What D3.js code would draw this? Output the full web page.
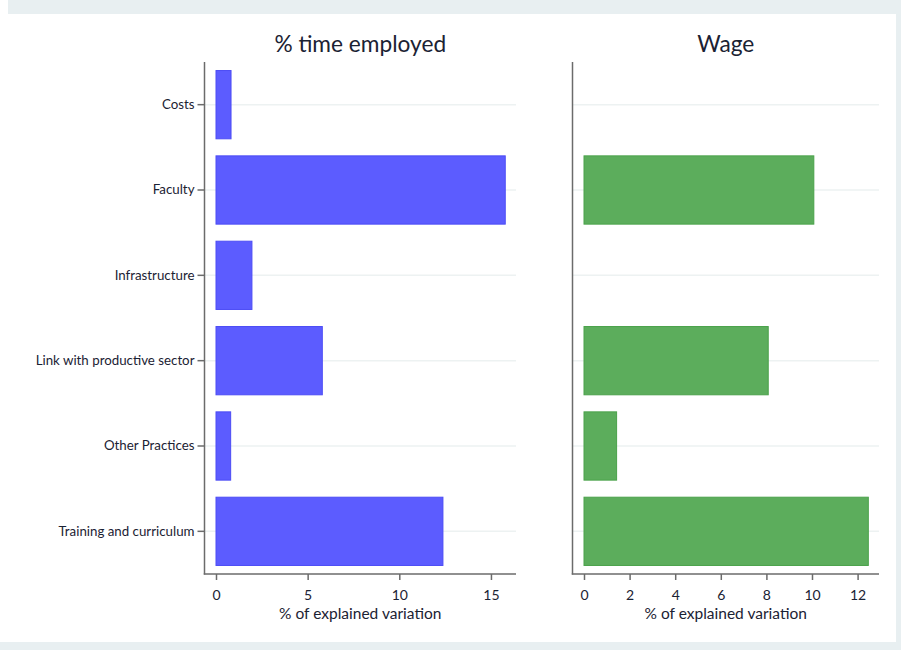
<!DOCTYPE html>
<html>
<head>
<meta charset="utf-8">
<script src="https://cdn.jsdelivr.net/npm/d3@7"></script>
<style>
  html, body { margin: 0; padding: 0; background: #fff; }
  svg { display: block; }
  text { font-family: Lato, "Open Sans", sans-serif; fill: #1b2233; }
</style>
</head>
<body>
<svg id="chart" width="901" height="650"></svg>
<script>
const categories = ["Costs", "Faculty", "Infrastructure", "Link with productive sector", "Other Practices", "Training and curriculum"];
const timeEmployed = [0.82, 15.78, 1.96, 5.8, 0.8, 12.38];
const wage = [null, 10.08, null, 8.08, 1.43, 12.47];
const panelTitles = ["% time employed", "Wage"];
const timeTicks = [0, 5, 10, 15];
const wageTicks = [0, 2, 4, 6, 8, 10, 12];
const xAxisTitle = "% of explained variation";

const svg = d3.select("#chart");
const W = 901, H = 650;

// frame background
svg.append("rect").attr("x", 8).attr("y", 0).attr("width", W - 8).attr("height", 14).attr("fill", "#e8eff1");
svg.append("rect").attr("x", 896).attr("y", 0).attr("width", 5).attr("height", H).attr("fill", "#e8eff1");
svg.append("rect").attr("x", 0).attr("y", 642).attr("width", W).attr("height", 8).attr("fill", "#e8eff1");

const plotTop = 62, plotBottom = 574;
const y = d3.scaleBand().domain(categories).range([plotTop, plotBottom]).paddingInner(0.2).paddingOuter(0.1);

const panels = [
  { title: panelTitles[0], values: timeEmployed, ticks: timeTicks, axisX: 204.5, zeroX: 216, unitPx: 18.33, right: 516, fill: "#5c5cff", stroke: "#4c4cf5", yLabels: true },
  { title: panelTitles[1], values: wage, ticks: wageTicks, axisX: 572.5, zeroX: 584, unitPx: 22.8, right: 879, fill: "#5cad5c", stroke: "#4aa24a", yLabels: false }
];

panels.forEach(p => {
  const x = d3.scaleLinear().domain([0, 1]).range([p.zeroX, p.zeroX + p.unitPx]);
  const g = svg.append("g");

  // gridlines
  g.selectAll("line.grid").data(categories).join("line")
    .attr("x1", p.axisX).attr("x2", p.right)
    .attr("y1", d => y(d) + y.bandwidth() / 2).attr("y2", d => y(d) + y.bandwidth() / 2)
    .attr("stroke", "#edf2f2").attr("stroke-width", 1.5);

  // bars
  g.selectAll("rect.bar").data(categories.map((c, i) => ({ c, v: p.values[i] })).filter(d => d.v != null)).join("rect")
    .attr("x", x(0))
    .attr("y", d => y(d.c))
    .attr("width", d => x(d.v) - x(0))
    .attr("height", y.bandwidth())
    .attr("fill", p.fill).attr("stroke", p.stroke).attr("stroke-width", 1);

  // y axis
  const yAxis = d3.axisLeft(y).tickSize(p.yLabels ? 7 : 0).tickPadding(3).tickFormat(p.yLabels ? (d => d) : () => "");
  const ya = g.append("g").attr("transform", `translate(${p.axisX},0)`).call(yAxis);
  ya.select(".domain").attr("d", `M0,${plotTop}V${plotBottom + 0.5}`).attr("stroke", "#6b6b6b").attr("stroke-width", 1.5);
  ya.selectAll(".tick line").attr("stroke", "#6b6b6b").attr("stroke-width", 1.5);
  ya.selectAll(".tick text").attr("font-size", 13.3).attr("font-family", "Lato, sans-serif").attr("fill", "#1b2233");

  // x axis
  const xAxis = d3.axisBottom(x).tickValues(p.ticks).tickSize(6).tickPadding(10).tickFormat(d3.format("d"));
  const xa = g.append("g").attr("transform", `translate(0,${plotBottom})`).call(xAxis);
  xa.select(".domain").attr("d", `M${p.axisX - 0.75},0H${p.right}`).attr("stroke", "#6b6b6b").attr("stroke-width", 1.5);
  xa.selectAll(".tick line").attr("stroke", "#6b6b6b").attr("stroke-width", 1.5);
  xa.selectAll(".tick text").attr("font-size", 14).attr("font-family", "Lato, sans-serif").attr("fill", "#1b2233");

  const cx = (p.axisX + p.right) / 2;
  g.append("text").attr("x", cx).attr("y", 619).attr("text-anchor", "middle")
    .attr("font-size", 15.5).text(xAxisTitle);
  g.append("text").attr("x", cx).attr("y", 52).attr("text-anchor", "middle")
    .attr("font-size", 22.7).text(p.title);
});
</script>
</body>
</html>
